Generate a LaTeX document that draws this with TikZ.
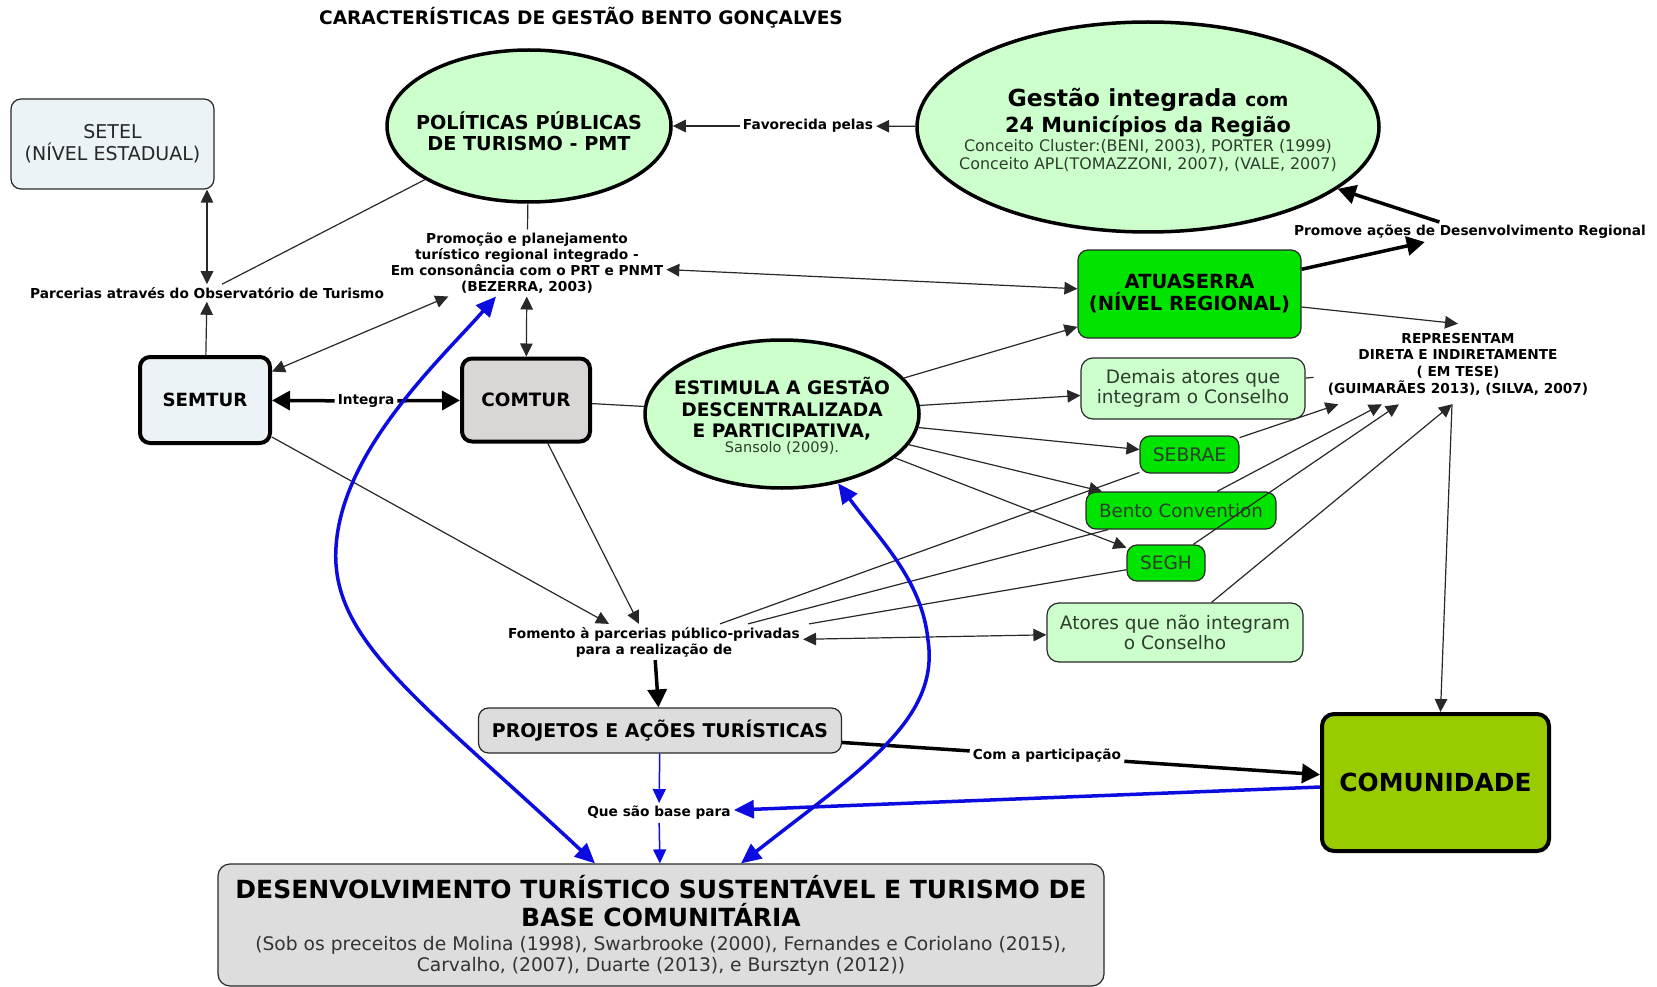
\documentclass[tikz,border=0pt]{standalone}
\usepackage{fontspec}
\setmainfont{DejaVu Sans}
\usetikzlibrary{arrows.meta,shapes.geometric}
\newcommand\fsz[2]{\fontsize{#1}{#2}\selectfont\lineskiplimit=-100pt\relax}
\definecolor{lgreen}{RGB}{204,255,204}
\definecolor{bgreen}{RGB}{0,228,0}
\definecolor{ygreen}{RGB}{153,204,0}
\definecolor{lblue}{RGB}{235,243,246}
\definecolor{lgray}{RGB}{218,214,214}
\definecolor{pgray}{RGB}{221,221,221}
\definecolor{myblue}{RGB}{12,12,225}
\definecolor{txtg}{RGB}{45,62,45}
\definecolor{edge}{RGB}{40,40,40}
\begin{document}
\begin{tikzpicture}[x=1pt,y=-1pt,
  box/.style={draw=edge, line width=1.2pt, rounded corners=10pt, align=center, inner sep=0pt},
  ellip/.style={ellipse, draw=black, line width=3.5pt, fill=lgreen, inner sep=0pt},
  lbl/.style={font=\bfseries\fsz{13.7}{16}, align=center, inner sep=3pt},
  conn/.style={line width=1.2pt, draw=edge},
  ar/.style={-{Triangle[length=13pt,width=12.5pt]}},
  dar/.style={{Triangle[length=13pt,width=12.5pt]}-{Triangle[length=13pt,width=12.5pt]}},
  thk/.style={line width=3.5pt, draw=black},
  arthk/.style={-{Triangle[length=18pt,width=19pt]}},
  blth/.style={line width=1.5pt, draw=myblue, fill=myblue},
  arbl/.style={-{Triangle[length=14pt,width=13pt]}},
  blthk/.style={line width=3.5pt, draw=myblue, fill=myblue},
  arblthk/.style={-{Triangle[length=20pt,width=18pt]}},
  dblthk/.style={{Triangle[length=20pt,width=18pt]}-{Triangle[length=20pt,width=18pt]}}
]
\fill[white] (0,0) rectangle (1657,987);
\useasboundingbox (0,0) rectangle (1657,987);

% title
\node[font=\bfseries\fsz{18.6}{22}, anchor=base, inner sep=0pt] (title) at (581,25) {CARACTERÍSTICAS DE GESTÃO BENTO GONÇALVES};

% boxes and ellipses
\node[box, fill=lblue, minimum width=203, minimum height=90, font=\fsz{19}{22}, text=black!85] (setel) at (112.5,144) {SETEL\\(NÍVEL ESTADUAL)};

\node[ellip, minimum width=284, minimum height=152] (pol) at (529,126) {};
\node[font=\bfseries\fsz{19.2}{21}, align=center, inner sep=0pt] (poltxt) at (529,131) {POLÍTICAS PÚBLICAS\\DE TURISMO - PMT};

\node[ellip, minimum width=462, minimum height=210] (gest) at (1148,127) {};
\node[align=center, inner sep=0pt, font=\fsz{15.9}{18}, text=txtg] (gesttxt) at (1148,130)
  {{\color{black}\bfseries\fsz{23.5}{27}Gestão integrada {\fsz{18.5}{21}com}}\\[7.5pt]
   {\color{black}\bfseries\fsz{20.8}{24}24 Municípios da Região}\\[1.2pt]
   Conceito Cluster:(BENI, 2003), PORTER (1999)\\
   Conceito APL(TOMAZZONI, 2007), (VALE, 2007)};

\node[ellip, minimum width=274, minimum height=148] (estim) at (782,414) {};
\node[align=center, inner sep=0pt, font=\bfseries\fsz{18.6}{21.5}] (estimtxt) at (782,416)
  {ESTIMULA A GESTÃO\\DESCENTRALIZADA\\E PARTICIPATIVA,\\[-6.5pt]{\mdseries\color{txtg}\fsz{14.5}{17}Sansolo (2009).}};

\node[box, line width=4pt, draw=black, fill=lblue, minimum width=130, minimum height=86, font=\bfseries\fsz{18.2}{22}] (semtur) at (205,400) {SEMTUR};
\node[box, line width=4pt, draw=black, fill=lgray, minimum width=128, minimum height=83, font=\bfseries\fsz{18.4}{22}] (comtur) at (526,400) {COMTUR};

\node[box, fill=bgreen, minimum width=223, minimum height=88, font=\bfseries\fsz{19.5}{22}] (atua) at (1189.5,294) {ATUASERRA\\(NÍVEL REGIONAL)};
\node[box, fill=lgreen, rounded corners=12pt, minimum width=224, minimum height=61, font=\fsz{18.5}{20.5}, text=txtg] (demais) at (1193,388.5) {Demais atores que\\integram o Conselho};
\node[box, fill=bgreen, minimum width=99, minimum height=37, font=\fsz{18.7}{22}, text=txtg] (sebrae) at (1189.5,454.5) {SEBRAE};
\node[box, fill=bgreen, minimum width=190, minimum height=37, font=\fsz{18.3}{22}, text=txtg] (bento) at (1181,510.5) {Bento Convention};
\node[box, fill=bgreen, minimum width=78, minimum height=36, font=\fsz{18.5}{22}, text=txtg] (segh) at (1166,563) {SEGH};
\node[box, fill=lgreen, rounded corners=12pt, minimum width=256, minimum height=59, font=\fsz{18.5}{20.5}, text=txtg] (atores) at (1175,632.5) {Atores que não integram\\o Conselho};

\node[box, fill=pgray, minimum width=363, minimum height=45, font=\bfseries\fsz{18.9}{22}] (proj) at (660,730.5) {PROJETOS E AÇÕES TURÍSTICAS};
\node[box, line width=4pt, draw=black, fill=ygreen, rounded corners=12pt, minimum width=227, minimum height=137, font=\bfseries\fsz{24.9}{28}] (comu) at (1435.5,782.5) {COMUNIDADE};
\node[box, fill=pgray, rounded corners=12pt, minimum width=886, minimum height=122, font=\fsz{18.7}{21}, text=black!80] (desenv) at (661,925)
  {{\color{black}\bfseries\fsz{25}{28}DESENVOLVIMENTO TURÍSTICO SUSTENTÁVEL E TURISMO DE}\\[7pt]
   {\color{black}\bfseries\fsz{25}{28}BASE COMUNITÁRIA}\\[3pt]
   (Sob os preceitos de Molina (1998), Swarbrooke (2000), Fernandes e Coriolano (2015),\\
   Carvalho, (2007), Duarte (2013), e Bursztyn (2012))};

% linking phrases
\node[lbl] (parc) at (207,293) {Parcerias através do Observatório de Turismo};
\node[lbl] (prom) at (527,263) {Promoção e planejamento\\turístico regional integrado -\\Em consonância com o PRT e PNMT\\(BEZERRA, 2003)};
\node[lbl] (fav) at (808,126) {Favorecida pelas};
\node[lbl] (promove) at (1470,232) {Promove ações de Desenvolvimento Regional};
\node[lbl] (integ) at (366,401) {Integra};
\node[lbl, font=\bfseries\fsz{13.7}{16.7}, inner xsep=14pt, inner ysep=9pt] (rep) at (1458,364) {REPRESENTAM\\DIRETA E INDIRETAMENTE\\( EM TESE)\\(GUIMARÃES 2013), (SILVA, 2007)};
\node[lbl] (fom) at (654,642) {Fomento à parcerias público-privadas\\para a realização de};
\node[lbl] (com) at (1047,756) {Com a participação};
\node[lbl] (que) at (659,813) {Que são base para};

% thin connectors
\draw[conn, ar] (gest) -- (fav);
\draw[conn, ar] (fav) -- (pol);
\draw[conn] (pol) -- (prom);
\draw[conn, dar] (parc.north) -- (parc.north |- setel.south);
\draw[conn, ar] (semtur) -- (parc);
\draw[conn] ([xshift=15pt]parc.north) -- (pol);
\draw[conn, dar] (semtur) -- (prom);
\draw[conn, dar] (comtur) -- (prom);
\draw[conn, dar] (prom) -- (atua);
\draw[conn] (comtur) -- (estim);
\draw[conn, ar] (estim) -- (atua);
\draw[conn, ar] (estim) -- (demais);
\draw[conn, ar] (estim) -- (sebrae);
\draw[conn, ar] (estim) -- (bento);
\draw[conn, ar] (estim) -- (segh);
\draw[conn, ar] (semtur) -- ([xshift=-45pt]fom.north);
\draw[conn, ar] (comtur) -- ([xshift=-15pt]fom.north);
\draw[conn] ([xshift=66pt]fom.north) -- (sebrae);
\draw[conn] ([xshift=94pt]fom.north) -- (bento);
\draw[conn] ([xshift=155pt]fom.north) -- (segh);
\draw[conn, dar] (fom) -- (atores);
\draw[conn, ar] ([yshift=-13pt]atua.east) -- (rep.north);
\draw[conn] (demais) -- (rep);
\draw[conn, ar] (sebrae) -- (rep);
\draw[conn, ar] (bento) -- (rep);
\draw[conn, ar] (segh) -- (rep);
\draw[conn, ar] (atores) -- ([xshift=-6pt]rep.south);
\draw[conn, ar] ([xshift=-6pt]rep.south) -- ([xshift=5pt]comu.north);

% thick connectors
\draw[thk, arthk] (integ) -- (semtur);
\draw[thk, arthk] (integ) -- (comtur);
\draw[thk, arthk] (fom) -- (proj);
\draw[thk] (proj) -- (com);
\draw[thk, arthk] (com) -- (comu);
\draw[thk, arthk] (atua) -- (promove);
\draw[thk, arthk] (promove) -- (gest);

% blue connectors
\draw[blth, arbl] (proj) -- (que);
\draw[blth, arbl] (que) -- (desenv);
\draw[blthk, arblthk] (comu) -- (que);
\draw[blthk, dblthk, fill=none] ([xshift=-66pt]desenv.north) .. controls (420,700) and (330,640) .. (336,547)
  .. controls (342,450) and (440,360) .. ([xshift=-31pt]prom.south);
\draw[blthk, dblthk, fill=none] ([xshift=80pt]desenv.north) .. controls (860,770) and (940,720) .. (928,640)
  .. controls (922,580) and (880,540) .. (estim.-51);
\end{tikzpicture}
\end{document}
